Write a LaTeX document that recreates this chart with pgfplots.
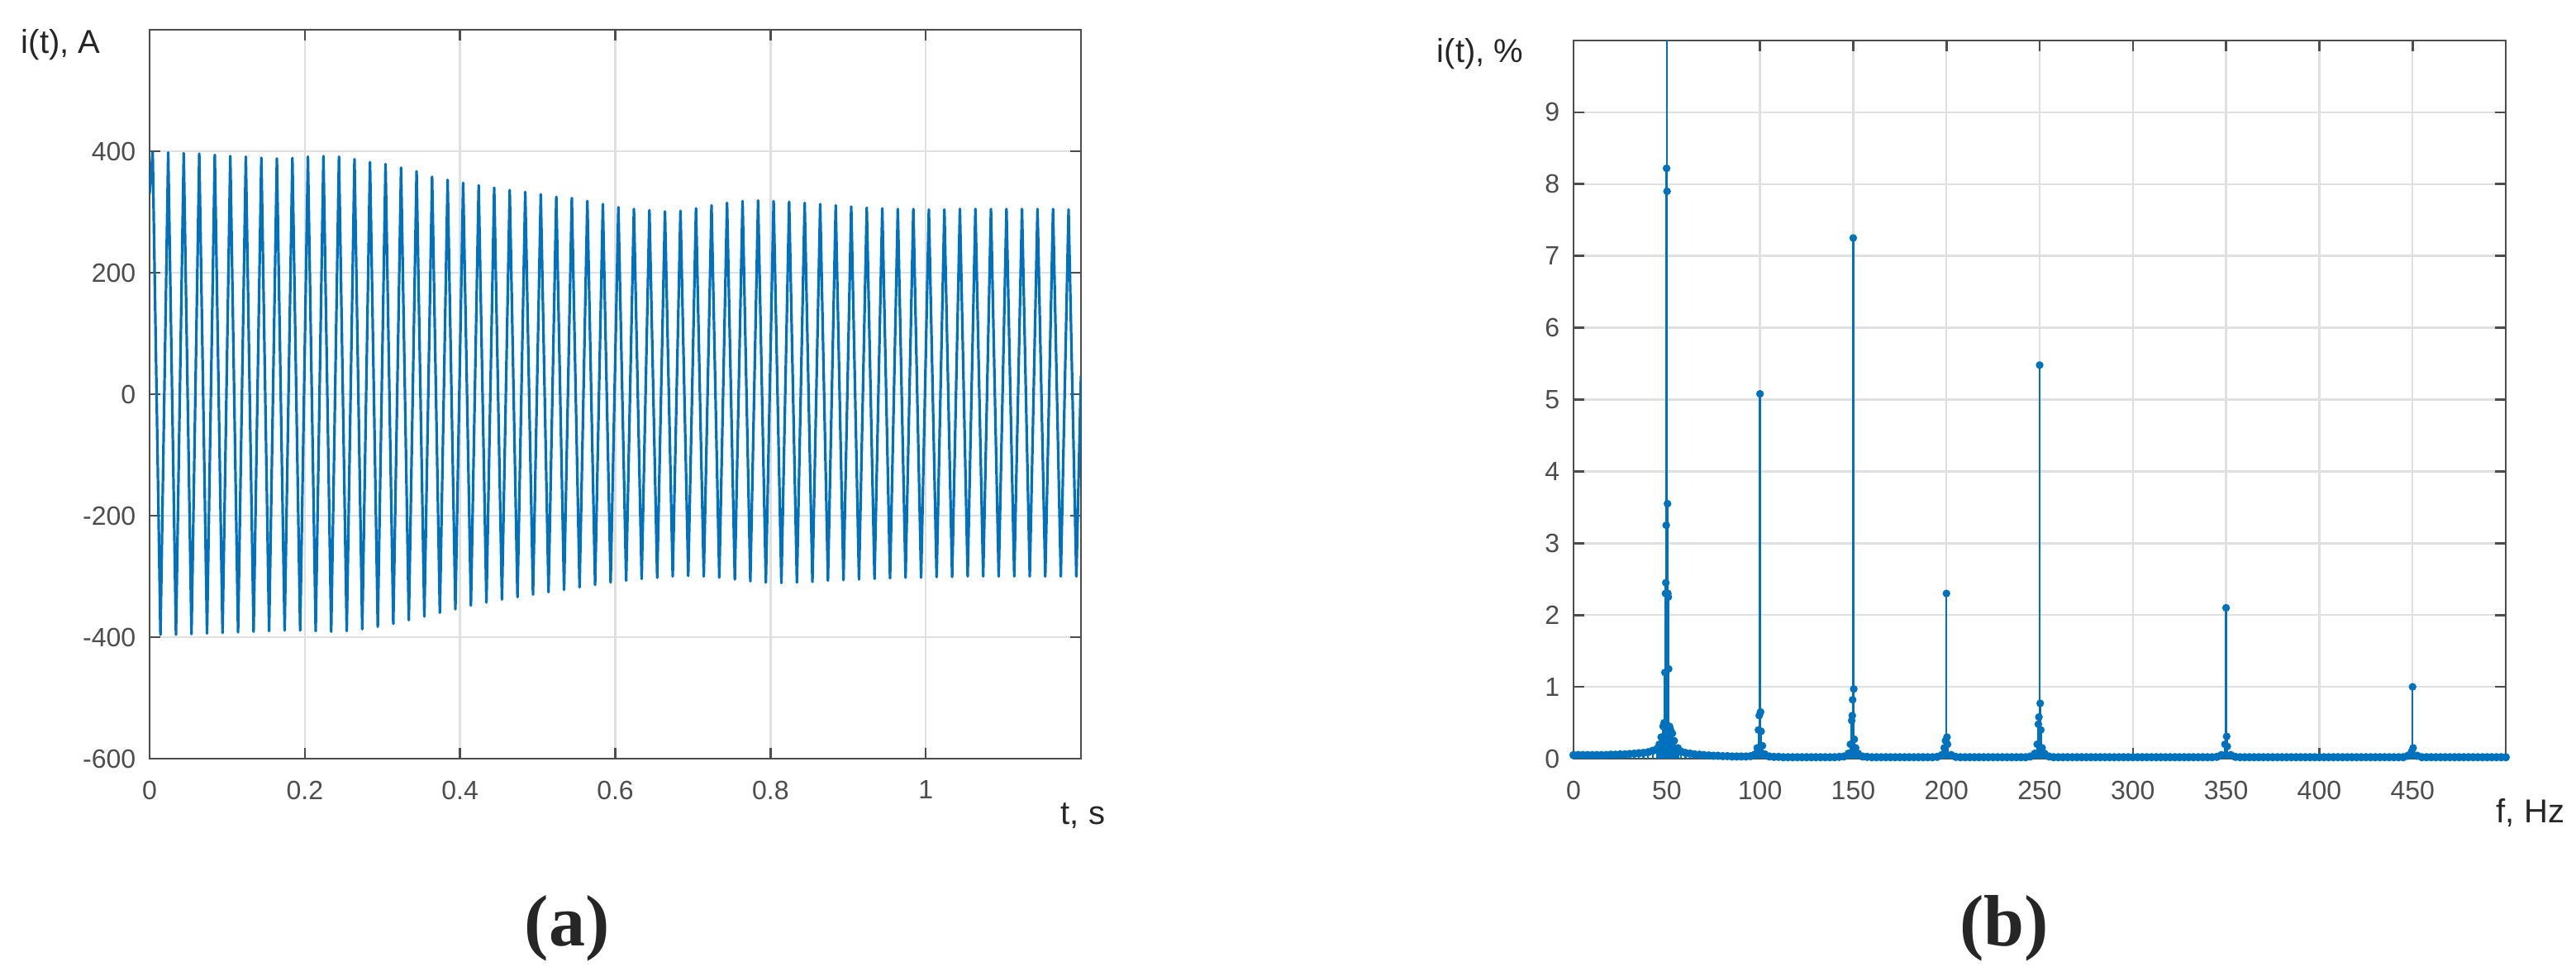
\documentclass[border=0pt]{standalone}
\usepackage{pgfplots}
\pgfplotsset{compat=1.18}
\usepackage{fontspec}
\setmainfont{Liberation Sans}
\newfontfamily\serifbold{Liberation Serif}
\definecolor{mblue}{HTML}{0072BD}
\definecolor{axgray}{HTML}{4D4D4D}
\definecolor{gridgray}{HTML}{E0E0E0}
\definecolor{labblack}{HTML}{262626}
\pgfplotsset{matstyle/.style={
  scale only axis,
  anchor=south west,
  axis line style={axgray, line width=0.65pt},
  every tick/.style={axgray, line width=0.65pt},
  major tick length=3.25pt,
  tick align=inside,
  tick pos=both,
  grid=major,
  major grid style={gridgray, line width=0.6pt},
  ticklabel style={font=\fontsize{8}{9}\selectfont, text=axgray, inner sep=0pt},
  xticklabel style={anchor=north, yshift=-6.5pt},
  yticklabel style={anchor=east, xshift=-4pt},
}}
\begin{document}
\begin{tikzpicture}
\useasboundingbox (0pt,0pt) rectangle (779.25pt,295pt);
% (a)
\begin{axis}[matstyle, at={(45.25pt,65.5pt)}, width=281.75pt, height=220.5pt,
  xmin=0, xmax=1.2, ymin=-600, ymax=600,
  xtick={0,0.2,0.4,0.6,0.8,1}, xticklabels={0,0.2,0.4,0.6,0.8,1},
  ytick={-600,-400,-200,0,200,400}, yticklabels={-600,-400,-200,0,200,400}]
\addplot[mblue, line width=0.8pt, line join=round] table[row sep=\\] {
t v\\
0 330\\ .004 399\\ .014 -396\\ .024 398\\ .034 -396\\ .044 397\\ .054 -395\\ .064 396\\ .074 -394\\ .084 394\\ .094 -393\\ .104 392\\ .114 -392\\ .124 391\\ .134 -391\\ .144 389\\ .154 -390\\ .164 388\\ .174 -389\\ .184 389\\ .194 -389\\ .204 391\\ .214 -390\\ .224 392\\ .234 -391\\ .244 391\\ .254 -390\\ .264 387\\ .274 -387\\ .284 382\\ .294 -383\\ .304 379\\ .314 -378\\ .324 373\\ .334 -372\\ .344 367\\ .354 -366\\ .364 358\\ .374 -360\\ .384 353\\ .394 -354\\ .404 348\\ .414 -348\\ .424 344\\ .434 -343\\ .444 340\\ .454 -338\\ .464 336\\ .474 -334\\ .484 333\\ .494 -330\\ .504 329\\ .514 -326\\ .524 325\\ .534 -322\\ .544 323\\ .554 -318\\ .564 318\\ .574 -314\\ .584 313\\ .594 -310\\ .604 308\\ .614 -307\\ .624 305\\ .634 -304\\ .644 303\\ .654 -302\\ .664 301\\ .674 -300\\ .684 302\\ .694 -299\\ .704 306\\ .714 -300\\ .724 311\\ .734 -302\\ .744 315\\ .754 -305\\ .764 318\\ .774 -308\\ .784 319\\ .794 -310\\ .804 318\\ .814 -311\\ .824 317\\ .834 -310\\ .844 315\\ .854 -309\\ .864 313\\ .874 -307\\ .884 311\\ .894 -306\\ .904 309\\ .914 -305\\ .924 307\\ .934 -304\\ .944 306\\ .954 -303\\ .964 305\\ .974 -302\\ .984 305\\ .994 -302\\ 1.004 304\\ 1.014 -301\\ 1.024 304\\ 1.034 -301\\ 1.044 305\\ 1.054 -300\\ 1.064 305\\ 1.074 -300\\ 1.084 305\\ 1.094 -300\\ 1.104 305\\ 1.114 -300\\ 1.124 305\\ 1.134 -300\\ 1.144 305\\ 1.154 -300\\ 1.164 305\\ 1.174 -300\\ 1.184 304\\ 1.194 -300\\ 1.2 30\\
};
\end{axis}
% (b)
\begin{axis}[matstyle, at={(476pt,65.5pt)}, width=282pt, height=217.25pt,
  xmin=0, xmax=500, ymin=0, ymax=10,
  xtick={0,50,100,150,200,250,300,350,400,450},
  xticklabels={0,50,100,150,200,250,300,350,400,450},
  ytick={0,1,2,3,4,5,6,7,8,9}, yticklabels={0,1,2,3,4,5,6,7,8,9}]
% baseline spectrum
\addplot[mblue, ycomb, line width=0.6pt, mark=*, mark size=0.95pt, mark options={mblue}] table[row sep=\\] {
f v\\
0 .05\\ 2.5 .05\\ 5 .05\\ 7.5 .05\\ 10 .05\\ 12.5 .05\\ 15 .05\\ 17.5 .05\\ 20 .055\\ 22.5 .055\\ 25 .06\\ 27.5 .06\\ 30 .065\\ 32.5 .07\\ 35 .075\\ 37.5 .08\\ 40 .09\\ 42.5 .11\\ 45 .14\\ 47.5 .2\\ 52.5 .2\\ 55 .14\\ 57.5 .1\\ 60 .08\\ 62.5 .07\\ 65 .06\\ 67.5 .055\\ 70 .05\\ 72.5 .045\\ 75 .04\\ 77.5 .04\\ 80 .035\\ 82.5 .035\\ 85 .03\\ 87.5 .03\\ 90 .03\\ 92.5 .03\\ 95 .035\\ 97.5 .06\\ 102.5 .06\\ 105 .03\\ 107.5 .025\\ 110 .025\\ 112.5 .02\\ 115 .02\\ 117.5 .02\\ 120 .02\\ 122.5 .02\\ 125 .02\\ 127.5 .02\\ 130 .02\\ 132.5 .02\\ 135 .02\\ 137.5 .02\\ 140 .02\\ 142.5 .025\\ 145 .03\\ 147.5 .07\\ 152.5 .07\\ 155 .03\\ 157.5 .025\\ 160 .02\\ 162.5 .02\\ 165 .02\\ 167.5 .02\\ 170 .02\\ 172.5 .02\\ 175 .02\\ 177.5 .02\\ 180 .02\\ 182.5 .02\\ 185 .02\\ 187.5 .02\\ 190 .02\\ 192.5 .02\\ 195 .025\\ 197.5 .05\\ 202.5 .05\\ 205 .025\\ 207.5 .02\\ 210 .02\\ 212.5 .02\\ 215 .02\\ 217.5 .02\\ 220 .02\\ 222.5 .02\\ 225 .02\\ 227.5 .02\\ 230 .02\\ 232.5 .02\\ 235 .02\\ 237.5 .02\\ 240 .02\\ 242.5 .02\\ 245 .03\\ 247.5 .07\\ 252.5 .07\\ 255 .03\\ 257.5 .02\\ 260 .02\\ 262.5 .02\\ 265 .02\\ 267.5 .02\\ 270 .02\\ 272.5 .02\\ 275 .02\\ 277.5 .02\\ 280 .02\\ 282.5 .02\\ 285 .02\\ 287.5 .02\\ 290 .02\\ 292.5 .02\\ 295 .02\\ 297.5 .02\\ 300 .02\\ 302.5 .02\\ 305 .02\\ 307.5 .02\\ 310 .02\\ 312.5 .02\\ 315 .02\\ 317.5 .02\\ 320 .02\\ 322.5 .02\\ 325 .02\\ 327.5 .02\\ 330 .02\\ 332.5 .02\\ 335 .02\\ 337.5 .02\\ 340 .02\\ 342.5 .02\\ 345 .025\\ 347.5 .05\\ 352.5 .05\\ 355 .025\\ 357.5 .02\\ 360 .02\\ 362.5 .02\\ 365 .02\\ 367.5 .02\\ 370 .02\\ 372.5 .02\\ 375 .02\\ 377.5 .02\\ 380 .02\\ 382.5 .02\\ 385 .02\\ 387.5 .02\\ 390 .02\\ 392.5 .02\\ 395 .02\\ 397.5 .02\\ 400 .02\\ 402.5 .02\\ 405 .02\\ 407.5 .02\\ 410 .02\\ 412.5 .02\\ 415 .02\\ 417.5 .02\\ 420 .02\\ 422.5 .02\\ 425 .02\\ 427.5 .02\\ 430 .02\\ 432.5 .02\\ 435 .02\\ 437.5 .02\\ 440 .02\\ 442.5 .02\\ 445 .02\\ 447.5 .04\\ 452.5 .04\\ 455 .02\\ 457.5 .02\\ 460 .02\\ 462.5 .02\\ 465 .02\\ 467.5 .02\\ 470 .02\\ 472.5 .02\\ 475 .02\\ 477.5 .02\\ 480 .02\\ 482.5 .02\\ 485 .02\\ 487.5 .02\\ 490 .02\\ 492.5 .02\\ 495 .02\\ 497.5 .02\\ 500 .02\\
};
% harmonic clusters
\addplot[mblue, ycomb, line width=0.6pt, mark=*, mark size=0.85pt, mark options={mblue}] table[row sep=\\] {
f v\\
46 0.2\\ 47 0.3\\ 48 0.45\\ 48.6 0.5\\ 49 1.2\\ 49.3 2.3\\ 49.5 2.45\\ 49.7 3.25\\ 49.9 8.22\\ 50.15 7.9\\ 50.4 3.55\\ 50.6 2.3\\ 50.8 2.25\\ 51 1.25\\ 51.5 0.45\\ 52 0.4\\ 53 0.35\\ 54 0.25\\ 56 0.15\\
98.5 0.15\\ 99.2 0.4\\ 99.6 0.6\\ 100 5.08\\ 100.3 0.65\\ 100.6 0.38\\ 101.3 0.18\\
148.5 0.2\\ 149.2 0.53\\ 149.5 0.6\\ 149.7 0.82\\ 150 7.25\\ 150.3 0.97\\ 150.6 0.27\\ 151.3 0.15\\
198.8 0.15\\ 199.5 0.25\\ 200 2.3\\ 200.3 0.3\\ 200.6 0.2\\
248.7 0.2\\ 249.3 0.48\\ 249.6 0.58\\ 250 5.48\\ 250.3 0.77\\ 250.6 0.4\\ 251.3 0.15\\
349.4 0.2\\ 350 2.1\\ 350.3 0.31\\ 350.6 0.17\\
449.5 0.1\\ 450 1.0\\ 450.3 0.15\\
};
% fundamental (off scale)
\addplot[mblue, ycomb, line width=0.6pt, no marks] coordinates {(50,100)};
\end{axis}
\node[anchor=base west, inner sep=0pt, text=labblack, font=\fontsize{10}{12}\selectfont] at (6.25pt,278.75pt) {i(t), A};
\node[anchor=base west, inner sep=0pt, text=labblack, font=\fontsize{10}{12}\selectfont] at (434.5pt,276pt) {i(t), \%};
\node[anchor=base west, inner sep=0pt, text=labblack, font=\fontsize{10}{12}\selectfont] at (320.75pt,45.75pt) {t, s};
\node[anchor=base west, inner sep=0pt, text=labblack, font=\fontsize{10}{12}\selectfont] at (755pt,46.25pt) {f, Hz};
\node[inner sep=0pt, text=labblack, font=\serifbold\bfseries\fontsize{22}{26}\selectfont] at (171.5pt,14.25pt) {(a)};
\node[inner sep=0pt, text=labblack, font=\serifbold\bfseries\fontsize{22}{26}\selectfont] at (606.25pt,14.25pt) {(b)};
\end{tikzpicture}
\end{document}
